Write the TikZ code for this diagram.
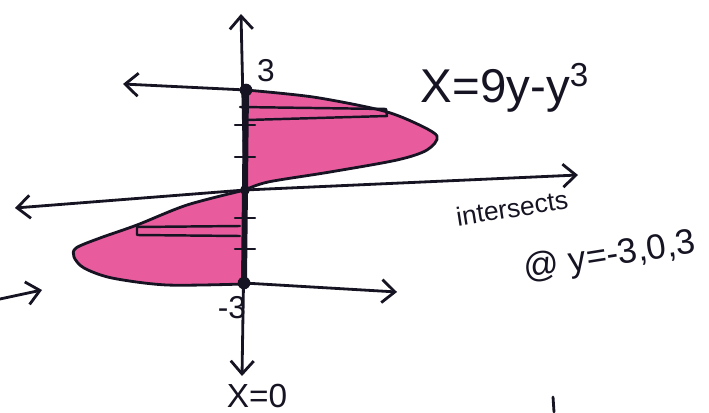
\documentclass[tikz,border=0pt]{standalone}
\usepackage{fontspec}
\setmainfont{Liberation Sans}
\usetikzlibrary{arrows.meta}
\definecolor{lobepink}{RGB}{232,92,158}
\definecolor{ink}{RGB}{22,20,34}
\begin{document}
\begin{tikzpicture}[x=0.02cm,y=-0.02cm,
  pen/.style={draw=ink,line width=1.6pt,line cap=round,line join=round},
  axisarrow/.style={pen,-{Straight Barb[length=2.6mm,width=4.6mm]}},
  thickaxis/.style={draw=ink,line width=3.4pt,line cap=round},
  tick/.style={pen,line width=1.4pt},
  strip/.style={pen,line width=1.4pt},
  dot/.style={fill=ink},
  lbl/.style={text=ink,inner sep=0pt}]
\useasboundingbox (0,0) rectangle (709,412);
% key points
\coordinate (top) at (241,14);
\coordinate (O) at (245,190);
\coordinate (P3) at (246,90);
\coordinate (M3) at (244,283);
\coordinate (bot) at (242,376);
\coordinate (xl) at (15,208);
\coordinate (xr) at (578,175);
\coordinate (ul) at (123,84);
\coordinate (lr) at (397,292);
\coordinate (el0) at (0,299);
\coordinate (el1) at (42,290);
\coordinate (mk0) at (553,397);
\coordinate (mk1) at (554,412);
% pink lobes
\fill[lobepink] plot[smooth] coordinates {(246,90) (313,97) (380,110) (413,122) (437,136) (427,150) (397,160) (330,172) (268,182) (245,190)} -- cycle;
\fill[lobepink] plot[smooth] coordinates {(245,190) (187,205) (137,225) (100,238) (76,248) (74,257) (84,268) (112,278) (167,285) (244,284)} -- cycle;
% curves
\draw[pen] plot[smooth] coordinates {(246,90) (313,97) (380,110) (413,122) (437,136) (427,150) (397,160) (330,172) (268,182) (245,190)};
\draw[pen] plot[smooth] coordinates {(245,190) (187,205) (137,225) (100,238) (76,248) (74,257) (84,268) (112,278) (167,285) (244,284)};
% axes
\draw[axisarrow] (O) -- (top);
\draw[axisarrow] (O) -- (bot);
\draw[axisarrow] (O) -- (xl);
\draw[axisarrow] (O) -- (xr);
\draw[axisarrow] (P3) -- (ul);
\draw[axisarrow] (M3) -- (lr);
\draw[axisarrow] (el0) -- (el1);
\draw[thickaxis] (P3) -- (M3);
\draw[pen] (mk0) -- (mk1);
% ticks
\foreach \yy in {125,157,218,249} \draw[tick] (235,\yy) -- (255,\yy);
% strips
\draw[strip] (240,107) -- (386,109) -- (387,116) -- (247,120);
\draw[strip] (240,226) -- (137,227) -- (137,235) -- (240,236);
% dots
\fill[dot] (P3) circle[radius=3.6pt];
\fill[dot] (O) circle[radius=2.8pt];
\fill[dot] (M3) circle[radius=3.6pt];
% labels
\node[lbl,font=\fontsize{27}{29}\selectfont] (eq) at (505,88) {X=9y-y\textsuperscript{3}};
\node[lbl,font=\fontsize{15}{17}\selectfont,rotate=9] (inter) at (512,208) {intersects};
\node[lbl,font=\fontsize{20}{22}\selectfont,rotate=9] (at) at (610,257) {@ y=-3,0,3};
\node[lbl,font=\fontsize{18}{20}\selectfont] (three) at (266,71) {3};
\node[lbl,font=\fontsize{18}{20}\selectfont] (mthree) at (232,308) {-3};
\node[lbl,font=\fontsize{19}{21}\selectfont] (xzero) at (257,396) {X=0};
\end{tikzpicture}
\end{document}
